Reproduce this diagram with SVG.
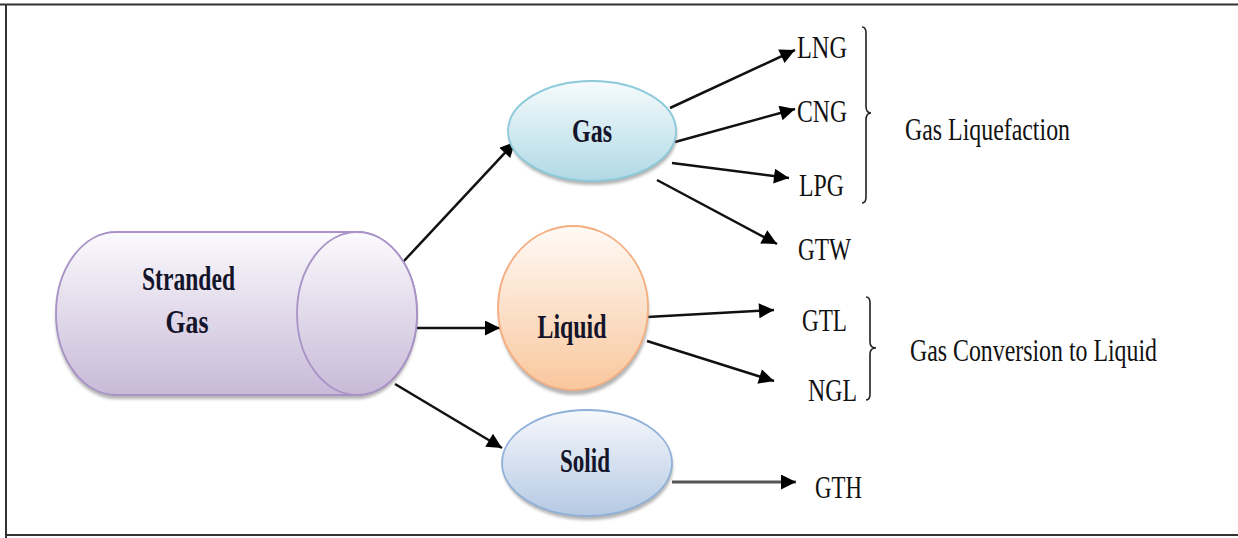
<svg xmlns="http://www.w3.org/2000/svg" width="1238" height="538" viewBox="0 0 1238 538">
<defs>
  <linearGradient id="gCyl" x1="0" y1="0" x2="0" y2="1">
    <stop offset="0" stop-color="#fbfafd"/>
    <stop offset="1" stop-color="#c8bad8"/>
  </linearGradient>
  <linearGradient id="gGas" x1="0" y1="0" x2="0" y2="1">
    <stop offset="0" stop-color="#f6fbfd"/>
    <stop offset="1" stop-color="#b0d9e5"/>
  </linearGradient>
  <linearGradient id="gLiq" x1="0" y1="0" x2="0" y2="1">
    <stop offset="0" stop-color="#fffaf6"/>
    <stop offset="1" stop-color="#f9c79d"/>
  </linearGradient>
  <linearGradient id="gSol" x1="0" y1="0" x2="0" y2="1">
    <stop offset="0" stop-color="#f6f8fc"/>
    <stop offset="1" stop-color="#b5c9e3"/>
  </linearGradient>
  <filter id="sh" x="-10%" y="-10%" width="120%" height="130%">
    <feGaussianBlur stdDeviation="1.5"/>
  </filter>
  <marker id="ah" viewBox="0 0 10 10" refX="10" refY="5" markerWidth="19" markerHeight="15" markerUnits="userSpaceOnUse" orient="auto">
    <path d="M0,0 L10,5 L0,10 z" fill="#000"/>
  </marker>
</defs>
<style>
  .frame { stroke: #333; stroke-width: 2; fill: none; }
  .conn { stroke: #111; stroke-width: 2.5; fill: none; marker-end: url(#ah); }
  .gray { stroke: #555; stroke-width: 3; }
  .brace { stroke: #222; stroke-width: 1.6; fill: none; }
  .nl { font-family: "Liberation Serif", "Times New Roman", serif; font-weight: bold; font-size: 33px; fill: #14142a; text-anchor: middle; }
  .lb { font-family: "Liberation Serif", "Times New Roman", serif; font-size: 31px; fill: #111; }
  .shadow { fill: #777; opacity: 0.55; filter: url(#sh); }
</style>

<g id="frame">
  <line class="frame" x1="0" y1="4.5" x2="1238" y2="4.5"/>
  <line class="frame" x1="6" y1="4" x2="6" y2="538"/>
  <line class="frame" x1="6" y1="535" x2="1238" y2="535"/>
</g>

<g id="connectors">
  <line class="conn" x1="403" y1="262" x2="515" y2="142"/>
  <line class="conn" x1="417" y1="328" x2="500" y2="328"/>
  <line class="conn" x1="395" y1="384" x2="502" y2="448"/>
  <line class="conn" x1="670" y1="108" x2="795" y2="50"/>
  <line class="conn" x1="675" y1="142" x2="795" y2="109"/>
  <line class="conn" x1="672" y1="163" x2="789" y2="178"/>
  <line class="conn" x1="657" y1="180" x2="777" y2="244"/>
  <line class="conn" x1="647" y1="317" x2="774" y2="310"/>
  <line class="conn" x1="647" y1="341" x2="774" y2="381"/>
  <line class="conn gray" x1="672" y1="482" x2="796" y2="482"/>
</g>

<g id="stranded-gas">
  <path class="shadow" d="M357,236 L116,236 A60,81 0 0 0 116,399 L357,399 A60,81 0 0 0 357,236 z"/>
  <path d="M357,232 L116,232 A60,81.5 0 0 0 116,395 L357,395 A60,81.5 0 0 0 357,232 z" fill="url(#gCyl)" stroke="#a892c6" stroke-width="1.8"/>
  <ellipse cx="357" cy="313.5" rx="60" ry="81.5" fill="url(#gCyl)" stroke="#a892c6" stroke-width="1.8"/>
  <text class="nl" x="188.5" y="290" textLength="93" lengthAdjust="spacingAndGlyphs">Stranded</text>
  <text class="nl" x="187" y="333" textLength="43" lengthAdjust="spacingAndGlyphs">Gas</text>
</g>

<g id="gas">
  <ellipse class="shadow" cx="593" cy="135" rx="84" ry="50"/>
  <ellipse cx="592" cy="131" rx="84" ry="50" fill="url(#gGas)" stroke="#8ccad9" stroke-width="1.8"/>
  <text class="nl" x="592" y="142" textLength="40" lengthAdjust="spacingAndGlyphs">Gas</text>
</g>

<g id="liquid">
  <ellipse class="shadow" cx="574" cy="313" rx="75" ry="82"/>
  <ellipse cx="573" cy="308" rx="75" ry="82" fill="url(#gLiq)" stroke="#f4ae80" stroke-width="1.8"/>
  <text class="nl" x="572" y="338" textLength="69" lengthAdjust="spacingAndGlyphs">Liquid</text>
</g>

<g id="solid">
  <ellipse class="shadow" cx="588" cy="467" rx="85" ry="53"/>
  <ellipse cx="587" cy="463" rx="85" ry="53" fill="url(#gSol)" stroke="#8fb1d9" stroke-width="1.8"/>
  <text class="nl" x="585" y="472" textLength="50" lengthAdjust="spacingAndGlyphs">Solid</text>
</g>

<g id="lng"><text class="lb" x="797" y="58" textLength="50" lengthAdjust="spacingAndGlyphs">LNG</text></g>
<g id="cng"><text class="lb" x="797" y="122" textLength="50" lengthAdjust="spacingAndGlyphs">CNG</text></g>
<g id="lpg"><text class="lb" x="799" y="196" textLength="45" lengthAdjust="spacingAndGlyphs">LPG</text></g>
<g id="gtw"><text class="lb" x="798" y="260" textLength="53" lengthAdjust="spacingAndGlyphs">GTW</text></g>
<g id="gtl"><text class="lb" x="802" y="331" textLength="45" lengthAdjust="spacingAndGlyphs">GTL</text></g>
<g id="ngl"><text class="lb" x="808" y="401" textLength="49" lengthAdjust="spacingAndGlyphs">NGL</text></g>
<g id="gth"><text class="lb" x="815" y="498" textLength="47" lengthAdjust="spacingAndGlyphs">GTH</text></g>

<g id="gas-liquefaction">
  <path class="brace" d="M862,27 Q866,27 866,33 L866,106 Q866,113 871,113 Q866,113 866,120 L866,197 Q866,203 862,203"/>
  <text class="lb" x="905" y="140" textLength="165" lengthAdjust="spacingAndGlyphs">Gas Liquefaction</text>
</g>

<g id="gas-conversion">
  <path class="brace" d="M866,297 Q870,297 870,303 L870,342 Q870,348 876,348 Q870,348 870,354 L870,394 Q870,400 866,400"/>
  <text class="lb" x="910" y="361" textLength="247" lengthAdjust="spacingAndGlyphs">Gas Conversion to Liquid</text>
</g>
</svg>
